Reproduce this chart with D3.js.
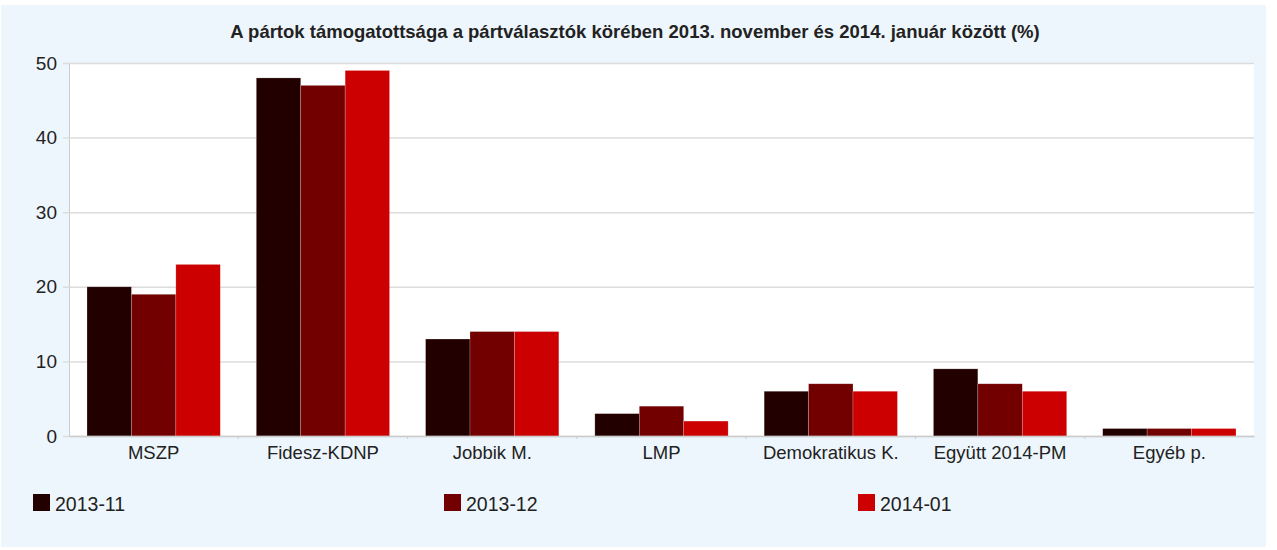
<!DOCTYPE html>
<html>
<head>
<meta charset="utf-8">
<script src="https://cdn.jsdelivr.net/npm/d3@7"></script>
<style>
  html, body { margin: 0; padding: 0; background: #ffffff; }
  svg { display: block; }
  text { font-family: "Liberation Sans", Arial, sans-serif; fill: #222; }
</style>
</head>
<body>
<svg id="chart" width="1277" height="550"></svg>
<script>
const categories = ["MSZP", "Fidesz-KDNP", "Jobbik M.", "LMP", "Demokratikus K.", "Együtt 2014-PM", "Egyéb p."];
const seriesNames = ["2013-11", "2013-12", "2014-01"];
const values201311 = [20, 48, 13, 3, 6, 9, 1];
const values201312 = [19, 47, 14, 4, 7, 7, 1];
const values201401 = [23, 49, 14, 2, 6, 6, 1];
const yTicks = [0, 10, 20, 30, 40, 50];
const colors = ["#220000", "#720000", "#cc0000"];
const title = "A pártok támogatottsága a pártválasztók körében 2013. november és 2014. január között (%)";

const seriesValues = [values201311, values201312, values201401];
const svg = d3.select("#chart");

// panel background
svg.append("rect").attr("x", 1).attr("y", 5).attr("width", 1265).attr("height", 542).attr("fill", "#eef6fd");

const mLeft = 69, mRight = 1254, mTop = 63, mBottom = 436;

const x = d3.scaleBand().domain(categories).range([mLeft, mRight]).paddingInner(0).paddingOuter(0);
const y = d3.scaleLinear().domain([0, 50]).range([mBottom, mTop]);

// plot area
svg.append("rect").attr("x", mLeft).attr("y", mTop).attr("width", mRight - mLeft).attr("height", mBottom - mTop).attr("fill", "#ffffff");

// grid lines
const yAxis = d3.axisLeft(y).tickValues(yTicks).tickSize(-(mRight - mLeft)).tickPadding(12).tickFormat(d3.format("d"));
const gy = svg.append("g").attr("transform", `translate(${mLeft},0)`).call(yAxis);
gy.select(".domain").attr("stroke", "#cccccc");
gy.selectAll(".tick line").attr("stroke", "#dcdcdc").attr("x1", -6).attr("stroke-width", 1.5);
gy.selectAll(".tick text").attr("font-size", 19).attr("fill", "#222").attr("font-family", "Liberation Sans, Arial, sans-serif").attr("x", -12);

// bars
const inner = 18;
const xs = d3.scaleBand().domain(seriesNames).range([inner, x.bandwidth() - inner]).padding(0);

seriesNames.forEach((s, si) => {
  svg.append("g").selectAll("rect").data(categories).join("rect")
    .attr("x", d => x(d) + xs(s))
    .attr("y", (d, i) => y(seriesValues[si][i]))
    .attr("width", xs.bandwidth())
    .attr("height", (d, i) => y(0) - y(seriesValues[si][i]))
    .attr("fill", colors[si])
    .attr("stroke", "rgba(255,255,255,0.35)")
    .attr("stroke-width", 0.6);
});

// x axis
const xAxis = d3.axisBottom(x).tickSize(0).tickPadding(9.5);
const gx = svg.append("g").attr("transform", `translate(0,${mBottom})`).call(xAxis);
gx.select(".domain").attr("stroke", "#cccccc").attr("stroke-width", 1.5);
gx.selectAll(".tick text").attr("font-size", 18.5).attr("fill", "#222").attr("font-family", "Liberation Sans, Arial, sans-serif");
gx.selectAll(".bt").data(categories.slice(1)).join("line").attr("class", "bt")
  .attr("x1", d => x(d)).attr("x2", d => x(d)).attr("y1", 0).attr("y2", 3)
  .attr("stroke", "#cccccc");

// title
svg.append("text").attr("x", 635).attr("y", 37.5).attr("text-anchor", "middle")
  .attr("font-size", 18.5).attr("font-weight", "bold").attr("fill", "#111").text(title);

// legend
const legendX = [33, 444, 858];
const lg = svg.append("g").selectAll("g").data(seriesNames).join("g")
  .attr("transform", (d, i) => `translate(${legendX[i]},494)`);
lg.append("rect").attr("width", 17).attr("height", 17).attr("fill", (d, i) => colors[i]);
lg.append("text").attr("x", 22).attr("y", 16.5).attr("font-size", 19.5).attr("fill", "#222").text(d => d);
</script>
</body>
</html>
